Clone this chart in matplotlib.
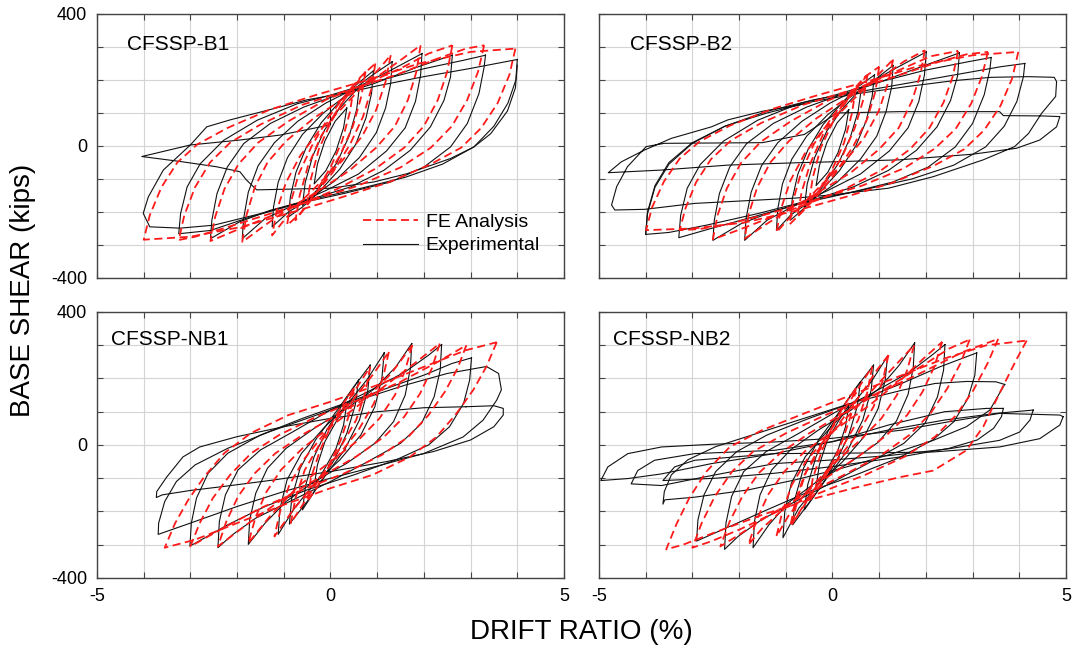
import matplotlib
matplotlib.use("Agg")
import matplotlib.pyplot as plt
from matplotlib.lines import Line2D

plt.rcParams["font.family"] = ["Liberation Sans", "DejaVu Sans"]

# Hysteresis loops, one list of (drift %, base shear kips) per cycle.
b1_exp = [
    [(0.35, 115), (0.28, 55), (0.12, -15), (-0.1, -75), (-0.35, -115), (-0.28, -55), (-0.12, 15), (0.1, 75), (0.35, 115)],
    [(0.62, 180), (0.56, 110), (0.4, 30), (0.14, -50), (-0.2, -120), (-0.6, -180), (-0.54, -110), (-0.38, -30),
     (-0.12, 50), (0.2, 115), (0.62, 180)],
    [(0.92, 228), (0.88, 160), (0.76, 85), (0.54, 5), (0.2, -70), (-0.25, -140), (-0.6, -185), (-0.9, -215),
     (-0.86, -155), (-0.74, -80), (-0.52, -5), (-0.2, 70), (0.2, 135), (0.55, 185), (0.92, 228)],
    [(1.32, 255), (1.29, 190), (1.18, 115), (0.98, 40), (0.62, -35), (0.1, -105), (-0.5, -165), (-0.9, -200),
     (-1.25, -245), (-1.22, -185), (-1.12, -110), (-0.92, -35), (-0.6, 35), (-0.15, 100), (0.35, 155), (0.85, 210),
     (1.32, 255)],
    [(1.96, 280), (1.93, 215), (1.82, 135), (1.6, 55), (1.2, -15), (0.6, -85), (-0.1, -135), (-0.8, -180),
     (-1.4, -220), (-1.89, -281), (-1.86, -220), (-1.76, -140), (-1.55, -60), (-1.2, 10), (-0.7, 75), (-0.1, 130),
     (0.6, 180), (1.3, 230), (1.96, 280)],
    [(2.61, 275), (2.57, 209), (2.43, 138), (2.14, 58), (1.71, -13), (1.14, -74), (0.43, -124), (-0.5, -165),
     (-1.29, -195), (-1.95, -230), (-2.57, -281), (-2.54, -225), (-2.43, -144), (-2.21, -64), (-1.86, 7),
     (-1.29, 68), (-0.57, 118), (0.14, 154), (0.93, 189), (1.86, 239), (2.61, 275)],
    [(3.32, 275), (3.29, 239), (3.18, 159), (2.93, 68), (2.57, -3), (2.0, -64), (1.29, -109), (0.29, -144),
     (-0.71, -175), (-1.71, -215), (-2.57, -256), (-3.25, -266), (-3.21, -205), (-3.07, -124), (-2.79, -54),
     (-2.29, 17), (-1.57, 78), (-0.71, 128), (0.0, 154), (0.93, 194), (2.0, 234), (2.86, 260), (3.32, 275)],
    [(4.0, 262), (3.97, 200), (3.8, 130), (3.5, 60), (3.07, -3), (2.4, -55), (1.6, -95), (0.6, -130), (-0.5, -165),
     (-1.5, -205), (-2.5, -240), (-3.22, -249), (-3.87, -245), (-4.01, -204), (-3.9, -154), (-3.58, -73),
     (-3.0, 3), (-2.65, 58), (-2.15, 79), (-1.3, 110), (-0.5, 140), (0.3, 160), (1.0, 182), (2.0, 210),
     (3.0, 235), (4.0, 262)],
    [(4.0, 245), (3.96, 176), (3.79, 106), (3.43, 37), (3.07, -3), (2.57, -38), (1.64, -84), (0.93, -109),
     (0.0, -128), (-1.58, -133), (-1.8, -103), (-1.94, -78), (-2.44, -63), (-3.22, -47), (-4.04, -32),
     (-3.0, 3), (-1.94, 18), (-1.08, 33), (0.0, 64), (0.0, 150)],
]

b1_fe = [
    [(0.5, 180), (0.42, 105), (0.25, 15), (0.0, -65), (-0.25, -125), (-0.5, -175), (-0.42, -100), (-0.25, -10),
     (0.0, 70), (0.25, 130), (0.5, 180)],
    [(0.75, 225), (0.66, 150), (0.48, 60), (0.2, -30), (-0.15, -110), (-0.45, -170), (-0.75, -225), (-0.66, -150),
     (-0.48, -60), (-0.2, 30), (0.15, 110), (0.45, 170), (0.75, 225)],
    [(0.96, 250), (0.88, 175), (0.7, 90), (0.42, 5), (0.05, -80), (-0.35, -150), (-0.65, -205), (-0.93, -240),
     (-0.85, -170), (-0.68, -85), (-0.4, 0), (-0.05, 85), (0.35, 160), (0.65, 210), (0.96, 250)],
    [(1.29, 275), (1.18, 195), (0.98, 110), (0.68, 30), (0.25, -45), (-0.25, -115), (-0.75, -185), (-1.05, -235),
     (-1.25, -271), (-1.15, -195), (-0.95, -110), (-0.65, -30), (-0.25, 45), (0.25, 115), (0.75, 190),
     (1.05, 235), (1.29, 275)],
    [(1.93, 305), (1.84, 225), (1.66, 140), (1.38, 60), (0.98, -5), (0.4, -75), (-0.3, -140), (-0.95, -195),
     (-1.45, -245), (-1.89, -291), (-1.8, -210), (-1.62, -125), (-1.35, -50), (-0.95, 15), (-0.35, 85),
     (0.35, 150), (1.0, 210), (1.5, 260), (1.93, 305)],
    [(2.61, 305), (2.5, 225), (2.3, 140), (2.0, 60), (1.58, -5), (0.95, -70), (0.15, -130), (-0.7, -180),
     (-1.5, -225), (-2.1, -260), (-2.57, -288), (-2.47, -215), (-2.27, -130), (-1.97, -55), (-1.55, 10),
     (-0.9, 75), (-0.1, 140), (0.7, 185), (1.5, 235), (2.1, 280), (2.61, 305)],
    [(3.29, 305), (3.16, 225), (2.93, 140), (2.6, 60), (2.15, -5), (1.5, -65), (0.6, -120), (-0.4, -165),
     (-1.4, -210), (-2.3, -250), (-2.9, -275), (-3.25, -285), (-3.13, -210), (-2.9, -125), (-2.58, -50),
     (-2.15, 10), (-1.5, 65), (-0.6, 125), (0.4, 170), (1.4, 215), (2.3, 265), (2.9, 295), (3.29, 305)],
    [(3.96, 295), (3.83, 215), (3.58, 130), (3.23, 55), (2.8, -5), (2.15, -55), (1.25, -110), (0.25, -155),
     (-0.8, -200), (-1.9, -245), (-3.0, -275), (-4.0, -284), (-3.87, -210), (-3.62, -125), (-3.28, -50),
     (-2.85, 5), (-2.2, 55), (-1.3, 110), (-0.3, 155), (0.8, 200), (1.9, 250), (3.0, 285), (3.96, 295)],
]

b2_exp = [
    [(0.35, 110), (0.28, 50), (0.12, -20), (-0.1, -80), (-0.35, -120), (-0.28, -60), (-0.12, 10), (0.1, 70), (0.35, 110)],
    [(0.62, 175), (0.55, 105), (0.38, 25), (0.12, -55), (-0.22, -125), (-0.6, -185), (-0.54, -115), (-0.38, -35),
     (-0.12, 45), (0.2, 110), (0.62, 175)],
    [(0.9, 215), (0.85, 150), (0.72, 75), (0.5, 0), (0.15, -75), (-0.3, -145), (-0.62, -190), (-0.9, -225),
     (-0.86, -160), (-0.74, -85), (-0.52, -10), (-0.2, 65), (0.2, 130), (0.55, 180), (0.9, 215)],
    [(1.3, 244), (1.27, 180), (1.15, 105), (0.95, 30), (0.6, -40), (0.1, -110), (-0.5, -170), (-0.9, -210),
     (-1.2, -256), (-1.17, -190), (-1.07, -115), (-0.87, -40), (-0.55, 30), (-0.1, 95), (0.4, 150), (0.9, 200),
     (1.3, 244)],
    [(2.01, 285), (1.97, 215), (1.85, 135), (1.62, 55), (1.22, -15), (0.6, -85), (-0.1, -135), (-0.8, -180),
     (-1.4, -225), (-1.88, -286), (-1.85, -220), (-1.74, -140), (-1.52, -60), (-1.17, 10), (-0.65, 75),
     (-0.05, 130), (0.65, 180), (1.35, 235), (2.01, 285)],
    [(2.72, 282), (2.68, 212), (2.53, 138), (2.24, 58), (1.8, -13), (1.2, -74), (0.45, -124), (-0.45, -165),
     (-1.3, -200), (-1.95, -235), (-2.56, -286), (-2.53, -225), (-2.42, -144), (-2.2, -64), (-1.84, 7),
     (-1.27, 68), (-0.55, 118), (0.16, 154), (0.95, 190), (1.9, 240), (2.72, 282)],
    [(3.4, 268), (3.37, 230), (3.25, 155), (3.0, 68), (2.63, -3), (2.05, -64), (1.3, -109), (0.3, -144),
     (-0.7, -175), (-1.7, -215), (-2.6, -250), (-3.29, -278), (-3.25, -210), (-3.11, -128), (-2.83, -56),
     (-2.33, 15), (-1.6, 78), (-0.72, 128), (0.0, 152), (0.95, 192), (2.0, 230), (2.9, 255), (3.4, 268)],
    [(4.12, 250), (4.09, 210), (3.95, 135), (3.68, 60), (3.28, -3), (2.6, -58), (1.7, -100), (0.6, -135),
     (-0.5, -165), (-1.6, -205), (-2.7, -240), (-3.5, -262), (-4.0, -268), (-3.96, -205), (-3.8, -125),
     (-3.5, -55), (-3.0, 8), (-2.3, 60), (-1.4, 105), (-0.4, 140), (0.6, 165), (1.6, 190), (2.8, 220),
     (3.6, 240), (4.12, 250)],
    [(-4.0, -268), (-3.96, -200), (-3.8, -120), (-3.5, -50), (-3.0, 10), (-2.3, 60), (-1.4, 100), (-0.4, 135),
     (0.6, 160), (1.6, 180), (2.6, 198), (3.4, 208), (4.2, 210), (4.75, 208), (4.8, 195), (4.78, 150),
     (4.48, 99), (4.2, 38), (3.9, -2), (3.23, -42), (2.16, -93), (1.2, -128), (0.0, -148), (-0.8, -158),
     (-2.0, -167), (-2.95, -174), (-4.02, -192), (-4.66, -194), (-4.73, -179), (-4.62, -123), (-4.39, -63),
     (-3.99, -2), (-3.6, 8), (-1.5, 10), (-0.6, 35), (0.1, 100), (1.44, 104), (3.58, 104), (3.66, 92),
     (4.5, 91), (4.87, 89), (4.8, 58), (4.44, 18), (3.94, -7), (3.0, -25), (1.44, -42), (0.0, -48),
     (-0.8, -51), (-2.24, -58), (-3.66, -73), (-4.8, -81), (-4.52, -48), (-4.02, -12), (-3.45, 23),
     (-2.59, 58), (-2.24, 79), (-1.5, 105), (-0.5, 130)],
]

b2_fe = [
    [(0.5, 175), (0.42, 100), (0.25, 10), (0.0, -70), (-0.25, -125), (-0.5, -170), (-0.42, -95), (-0.25, -5),
     (0.0, 70), (0.25, 125), (0.5, 175)],
    [(0.75, 215), (0.66, 140), (0.48, 55), (0.2, -35), (-0.15, -110), (-0.45, -165), (-0.75, -215), (-0.66, -140),
     (-0.48, -55), (-0.2, 35), (0.15, 110), (0.45, 165), (0.75, 215)],
    [(1.0, 240), (0.92, 165), (0.74, 80), (0.45, 0), (0.05, -85), (-0.35, -155), (-0.65, -200), (-0.92, -238),
     (-0.84, -165), (-0.67, -80), (-0.4, 5), (-0.02, 85), (0.38, 160), (0.7, 210), (1.0, 240)],
    [(1.3, 262), (1.19, 190), (0.99, 105), (0.68, 25), (0.25, -50), (-0.25, -120), (-0.7, -185), (-1.0, -230),
     (-1.2, -262), (-1.1, -190), (-0.9, -105), (-0.6, -25), (-0.2, 50), (0.3, 120), (0.8, 190), (1.08, 230),
     (1.3, 262)],
    [(1.98, 290), (1.88, 215), (1.7, 135), (1.42, 55), (1.0, -10), (0.4, -80), (-0.3, -140), (-0.95, -195),
     (-1.45, -240), (-1.88, -281), (-1.79, -205), (-1.61, -125), (-1.33, -50), (-0.93, 15), (-0.33, 85),
     (0.37, 150), (1.02, 205), (1.52, 255), (1.98, 290)],
    [(2.69, 288), (2.58, 212), (2.38, 132), (2.08, 55), (1.66, -10), (1.03, -75), (0.23, -133), (-0.62, -180),
     (-1.42, -222), (-2.02, -255), (-2.56, -283), (-2.46, -210), (-2.26, -128), (-1.96, -52), (-1.54, 12),
     (-0.89, 75), (-0.09, 138), (0.71, 185), (1.51, 235), (2.11, 272), (2.69, 288)],
    [(3.33, 285), (3.2, 210), (2.97, 128), (2.64, 52), (2.19, -8), (1.54, -67), (0.64, -120), (-0.36, -163),
     (-1.36, -205), (-2.26, -238), (-2.86, -252), (-3.27, -255), (-3.15, -190), (-2.92, -110), (-2.6, -40),
     (-2.17, 17), (-1.52, 70), (-0.62, 125), (0.38, 168), (1.38, 212), (2.28, 255), (2.88, 278), (3.33, 285)],
    [(3.98, 285), (3.85, 205), (3.6, 122), (3.25, 48), (2.82, -10), (2.17, -60), (1.27, -112), (0.27, -155),
     (-0.78, -196), (-1.88, -232), (-2.98, -250), (-3.99, -255), (-3.86, -185), (-3.61, -108), (-3.27, -38),
     (-2.84, 14), (-2.19, 62), (-1.29, 112), (-0.29, 155), (0.81, 198), (1.91, 245), (3.01, 275), (3.98, 285)],
]

nb1_exp = [
    [(0.35, 125), (0.28, 60), (0.12, -10), (-0.12, -70), (-0.35, -125), (-0.28, -60), (-0.12, 10), (0.12, 70), (0.35, 125)],
    [(0.6, 195), (0.53, 120), (0.35, 35), (0.08, -45), (-0.25, -120), (-0.6, -195), (-0.53, -120), (-0.35, -35),
     (-0.08, 45), (0.25, 120), (0.6, 195)],
    [(0.85, 240), (0.8, 165), (0.62, 75), (0.3, -15), (-0.15, -100), (-0.5, -170), (-0.88, -238), (-0.83, -160),
     (-0.65, -70), (-0.32, 15), (0.12, 100), (0.5, 175), (0.85, 240)],
    [(1.15, 277), (1.1, 200), (0.95, 115), (0.65, 30), (0.2, -45), (-0.3, -110), (-0.75, -185), (-1.12, -269),
     (-1.08, -190), (-0.93, -105), (-0.62, -25), (-0.15, 50), (0.35, 120), (0.8, 200), (1.15, 277)],
    [(1.74, 305), (1.71, 230), (1.6, 150), (1.35, 70), (0.95, 5), (0.35, -55), (-0.35, -110), (-0.95, -170),
     (-1.4, -235), (-1.76, -299), (-1.73, -225), (-1.6, -145), (-1.35, -70), (-0.95, -10), (-0.35, 50),
     (0.35, 110), (0.95, 170), (1.4, 235), (1.74, 305)],
    [(2.38, 302), (2.35, 225), (2.22, 145), (1.95, 65), (1.5, 5), (0.8, -50), (0.0, -110), (-0.8, -165),
     (-1.6, -220), (-2.1, -270), (-2.41, -309), (-2.38, -230), (-2.25, -150), (-1.98, -75), (-1.5, -15),
     (-0.8, 40), (0.0, 105), (0.8, 160), (1.6, 220), (2.1, 270), (2.38, 302)],
    [(3.02, 262), (2.98, 195), (2.85, 125), (2.55, 55), (2.1, 0), (1.4, -45), (0.5, -90), (-0.5, -135),
     (-1.4, -185), (-2.2, -240), (-2.7, -280), (-3.01, -304), (-2.98, -235), (-2.87, -160), (-2.62, -85),
     (-2.2, -25), (-1.5, 30), (-0.6, 80), (0.3, 125), (1.2, 170), (2.0, 210), (2.6, 245), (3.02, 262)],
    [(3.34, 236), (3.6, 215), (3.66, 166), (3.56, 135), (3.27, 75), (2.84, 24), (1.99, -26), (0.91, -67),
     (0.0, -100), (-1.0, -140), (-2.0, -185), (-3.0, -235), (-3.55, -262), (-3.69, -269), (-3.68, -235),
     (-3.55, -170), (-3.3, -110), (-2.9, -60), (-2.2, -10), (-1.3, 40), (-0.3, 90), (0.6, 135), (1.6, 180),
     (2.5, 215), (3.34, 236)],
    [(2.9, 115), (3.5, 118), (3.7, 110), (3.7, 90), (3.5, 55), (3.0, 15), (2.2, -20), (1.2, -50), (0.0, -80),
     (-1.2, -105), (-2.3, -125), (-3.01, -137), (-3.6, -150), (-3.73, -158), (-3.72, -140), (-3.51, -97),
     (-3.16, -36), (-2.8, -6), (-2.0, 25), (-1.0, 55), (0.0, 80), (1.0, 100), (2.0, 112), (2.9, 115)],
]

nb1_fe = [
    [(0.5, 170), (0.42, 100), (0.22, 15), (-0.05, -70), (-0.3, -130), (-0.5, -170), (-0.42, -100), (-0.22, -15),
     (0.05, 70), (0.3, 130), (0.5, 170)],
    [(0.85, 235), (0.75, 160), (0.55, 75), (0.2, -10), (-0.2, -95), (-0.55, -170), (-0.85, -235), (-0.75, -160),
     (-0.55, -75), (-0.2, 10), (0.2, 95), (0.55, 170), (0.85, 235)],
    [(1.25, 280), (1.13, 205), (0.93, 125), (0.6, 45), (0.15, -35), (-0.4, -125), (-0.85, -205), (-1.2, -275),
     (-1.08, -200), (-0.88, -120), (-0.55, -40), (-0.1, 40), (0.45, 130), (0.9, 210), (1.25, 280)],
    [(1.75, 300), (1.6, 225), (1.38, 150), (1.05, 80), (0.6, 15), (0.0, -50), (-0.7, -125), (-1.3, -215),
     (-1.76, -295), (-1.61, -220), (-1.39, -145), (-1.06, -75), (-0.6, -10), (0.0, 55), (0.7, 130), (1.3, 215),
     (1.75, 300)],
    [(2.34, 305), (2.17, 230), (1.92, 155), (1.58, 85), (1.15, 25), (0.55, -35), (-0.2, -95), (-1.0, -160),
     (-1.8, -240), (-2.41, -305), (-2.23, -230), (-1.98, -155), (-1.62, -85), (-1.18, -25), (-0.55, 35),
     (0.2, 95), (1.0, 160), (1.75, 240), (2.34, 305)],
    [(2.91, 300), (2.72, 230), (2.45, 160), (2.1, 90), (1.67, 25), (1.1, -30), (0.3, -85), (-0.6, -135),
     (-1.5, -190), (-2.3, -250), (-3.0, -305), (-2.8, -235), (-2.52, -160), (-2.15, -90), (-1.7, -25),
     (-1.1, 30), (-0.3, 85), (0.6, 135), (1.5, 190), (2.3, 250), (2.91, 300)],
    [(3.56, 309), (3.34, 236), (3.06, 166), (2.7, 95), (2.27, 24), (1.7, -36), (0.9, -90), (0.0, -130),
     (-1.0, -180), (-2.0, -235), (-2.9, -285), (-3.55, -309), (-3.33, -236), (-3.05, -166), (-2.7, -95),
     (-2.27, -24), (-1.7, 36), (-0.9, 90), (0.0, 130), (1.0, 180), (2.0, 235), (2.9, 285), (3.56, 309)],
]

nb2_exp = [
    [(0.35, 120), (0.28, 55), (0.12, -15), (-0.12, -75), (-0.35, -125), (-0.28, -60), (-0.12, 10), (0.12, 70), (0.35, 120)],
    [(0.6, 190), (0.53, 115), (0.35, 30), (0.08, -50), (-0.25, -125), (-0.6, -195), (-0.53, -120), (-0.35, -35),
     (-0.08, 45), (0.25, 120), (0.6, 190)],
    [(0.88, 240), (0.83, 165), (0.65, 75), (0.33, -15), (-0.12, -100), (-0.48, -170), (-0.85, -240), (-0.8, -160),
     (-0.62, -70), (-0.3, 15), (0.15, 100), (0.52, 175), (0.88, 240)],
    [(1.18, 267), (1.13, 195), (0.98, 110), (0.68, 25), (0.22, -50), (-0.28, -115), (-0.72, -190), (-1.06, -279),
     (-1.02, -200), (-0.88, -115), (-0.58, -35), (-0.12, 40), (0.38, 115), (0.83, 190), (1.18, 267)],
    [(1.76, 307), (1.73, 232), (1.62, 152), (1.37, 72), (0.97, 7), (0.37, -53), (-0.33, -110), (-0.93, -172),
     (-1.36, -240), (-1.7, -309), (-1.67, -230), (-1.55, -150), (-1.3, -75), (-0.9, -15), (-0.3, 45), (0.4, 105),
     (1.0, 170), (1.43, 240), (1.76, 307)],
    [(2.41, 302), (2.38, 225), (2.25, 145), (1.98, 65), (1.53, 5), (0.83, -50), (0.03, -110), (-0.77, -168),
     (-1.52, -225), (-2.02, -275), (-2.31, -314), (-2.28, -235), (-2.16, -155), (-1.9, -80), (-1.42, -20),
     (-0.72, 35), (0.08, 100), (0.88, 158), (1.66, 220), (2.13, 270), (2.41, 302)],
    [(3.09, 277), (3.05, 210), (2.9, 140), (2.6, 70), (2.15, 15), (1.4, -40), (0.5, -90), (-0.5, -140),
     (-1.4, -195), (-2.2, -245), (-2.91, -289), (-2.88, -225), (-2.75, -150), (-2.5, -80), (-2.05, -20),
     (-1.4, 30), (-0.5, 80), (0.5, 130), (1.4, 180), (2.3, 235), (3.09, 277)],
    [(3.69, 182), (3.58, 156), (3.37, 105), (2.87, 55), (2.16, 14), (1.2, -30), (0.2, -70), (-0.8, -105),
     (-1.8, -135), (-2.95, -157), (-3.59, -165), (-3.63, -178), (-3.6, -140), (-3.45, -90), (-3.1, -45),
     (-2.5, -5), (-1.5, 40), (-0.5, 85), (0.5, 130), (1.5, 165), (2.2, 185), (2.87, 191), (3.5, 190), (3.69, 182)],
    [(3.66, 110), (3.62, 85), (3.45, 50), (3.1, 15), (2.5, -10), (1.5, -35), (0.0, -65), (-1.24, -85),
     (-2.5, -100), (-3.63, -107), (-3.38, -66), (-2.95, -46), (-1.24, -26), (0.0, 10), (1.2, 60), (2.4, 100),
     (3.3, 110), (3.66, 110)],
    [(4.3, 105), (4.23, 75), (4.01, 39), (3.58, 14), (2.52, -11), (1.2, -32), (0.0, -45), (-1.24, -56),
     (-2.59, -92), (-3.66, -122), (-4.31, -117), (-4.17, -77), (-3.81, -46), (-2.95, -26), (-1.24, -16),
     (0.0, 10), (1.2, 45), (2.4, 75), (3.5, 95), (4.3, 105)],
    [(4.94, 85), (4.87, 60), (4.44, 19), (3.58, -6), (2.16, -21), (0.8, -24), (-1.24, -26), (-2.59, -56),
     (-3.66, -87), (-4.38, -101), (-4.96, -107), (-4.81, -66), (-4.38, -26), (-3.66, -6), (-2.59, 2),
     (-1.24, 9), (0.0, 20), (1.5, 45), (2.5, 70), (3.58, 95), (4.87, 90), (4.94, 85)],
]

nb2_fe = [
    [(0.5, 170), (0.42, 100), (0.22, 15), (-0.05, -70), (-0.3, -130), (-0.5, -170), (-0.42, -100), (-0.22, -15),
     (0.05, 70), (0.3, 130), (0.5, 170)],
    [(0.85, 235), (0.75, 160), (0.55, 75), (0.2, -10), (-0.2, -95), (-0.55, -170), (-0.85, -235), (-0.75, -160),
     (-0.55, -75), (-0.2, 10), (0.2, 95), (0.55, 170), (0.85, 235)],
    [(1.2, 270), (1.08, 195), (0.88, 115), (0.55, 35), (0.1, -45), (-0.4, -135), (-0.7, -200), (-0.9, -245),
     (-0.8, -170), (-0.6, -90), (-0.25, -10), (0.2, 75), (0.65, 160), (0.95, 225), (1.2, 270)],
    [(1.75, 300), (1.6, 225), (1.38, 150), (1.05, 80), (0.6, 15), (0.0, -60), (-0.55, -140), (-0.95, -215),
     (-1.2, -275), (-1.07, -200), (-0.87, -120), (-0.55, -45), (-0.1, 25), (0.5, 110), (1.05, 195), (1.45, 255),
     (1.75, 300)],
    [(2.35, 310), (2.18, 235), (1.93, 160), (1.6, 90), (1.15, 28), (0.55, -35), (-0.2, -105), (-0.95, -180),
     (-1.5, -250), (-1.8, -300), (-1.62, -225), (-1.38, -150), (-1.03, -80), (-0.58, -18), (0.05, 45),
     (0.8, 120), (1.5, 200), (1.95, 260), (2.35, 310)],
    [(2.94, 317), (2.74, 245), (2.46, 170), (2.1, 95), (1.65, 30), (1.05, -30), (0.25, -90), (-0.6, -150),
     (-1.4, -215), (-2.0, -270), (-2.4, -305), (-2.2, -230), (-1.93, -155), (-1.58, -85), (-1.12, -25),
     (-0.5, 35), (0.3, 100), (1.15, 170), (2.0, 245), (2.5, 290), (2.94, 317)],
    [(3.55, 319), (3.32, 245), (3.02, 165), (2.65, 90), (2.2, 25), (1.55, -35), (0.7, -90), (-0.2, -140),
     (-1.1, -195), (-2.0, -255), (-2.6, -290), (-3.0, -309), (-2.8, -235), (-2.52, -155), (-2.15, -80),
     (-1.7, -20), (-1.0, 35), (-0.15, 90), (0.8, 145), (1.8, 210), (2.8, 280), (3.55, 319)],
    [(4.16, 314), (3.94, 257), (3.58, 156), (3.23, 55), (2.87, -16), (2.16, -77), (1.44, -97), (0.5, -128),
     (-0.5, -165), (-1.5, -210), (-2.5, -262), (-3.2, -300), (-3.56, -314), (-3.34, -238), (-3.06, -158),
     (-2.7, -80), (-2.2, -6), (-1.5, 45), (-0.6, 95), (0.4, 150), (1.4, 205), (2.4, 260), (3.3, 300), (4.16, 314)],
]

panel_names = ["CFSSP-B1", "CFSSP-B2", "CFSSP-NB1", "CFSSP-NB2"]
drift_ticks = [-5, -4, -3, -2, -1, 0, 1, 2, 3, 4, 5]
shear_ticks = [-400, -300, -200, -100, 0, 100, 200, 300, 400]
drift_labels = ["-5", "", "", "", "", "0", "", "", "", "", "5"]
shear_labels = ["-400", "", "", "", "0", "", "", "", "400"]

exp_style = dict(color="#111111", lw=0.8)
fe_style = dict(color="#ff1a1a", lw=1.3, ls=(0, (4.5, 2.5)))

fig = plt.figure(figsize=(10.73, 6.55), dpi=100)
rects = [
    [0.0904, 0.5756, 0.4352, 0.4031],
    [0.5582, 0.5756, 0.4352, 0.4031],
    [0.0904, 0.1176, 0.4352, 0.4061],
    [0.5582, 0.1176, 0.4352, 0.4061],
]
title_pos = [(0.065, 0.885), (0.066, 0.885), (0.03, 0.895), (0.03, 0.895)]
exp_sets = [b1_exp, b2_exp, nb1_exp, nb2_exp]
fe_sets = [b1_fe, b2_fe, nb1_fe, nb2_fe]

for i, rect in enumerate(rects):
    ax = fig.add_axes(rect)
    for path in exp_sets[i]:
        xs, ys = zip(*path)
        ax.plot(xs, ys, **exp_style)
    for path in fe_sets[i]:
        xs, ys = zip(*path)
        ax.plot(xs, ys, **fe_style)

    ax.set_xlim(-5, 5)
    ax.set_ylim(-400, 400)
    ax.set_xticks(drift_ticks)
    ax.set_yticks(shear_ticks)
    ax.set_xticklabels(drift_labels if i >= 2 else [""] * len(drift_ticks))
    ax.set_yticklabels(shear_labels if i % 2 == 0 else [""] * len(shear_ticks))
    ax.tick_params(direction="in", length=4, width=0.8, top=True, right=True,
                   labelsize=13, pad=7, color="#444444")
    ax.grid(True, color="#d4d4d4", lw=0.8)
    ax.set_axisbelow(True)
    for sp in ax.spines.values():
        sp.set_color("#444444")
        sp.set_linewidth(1.0)

    ax.text(title_pos[i][0], title_pos[i][1], panel_names[i], transform=ax.transAxes,
            fontsize=15, va="center", ha="left")

    if i == 0:
        handles = [Line2D([], [], **fe_style), Line2D([], [], **exp_style)]
        ax.legend(handles, ["FE Analysis", "Experimental"], loc="lower right",
                  bbox_to_anchor=(0.965, 0.06), frameon=False, fontsize=14,
                  handlelength=2.8, handletextpad=0.4, labelspacing=0.3,
                  borderaxespad=0)

fig.text(0.021, 0.557, "BASE SHEAR (kips)", rotation=90, fontsize=20,
         ha="center", va="center")
fig.text(0.542, 0.035, "DRIFT RATIO (%)", fontsize=20, ha="center", va="center")

fig.savefig("out.png", dpi=100)
